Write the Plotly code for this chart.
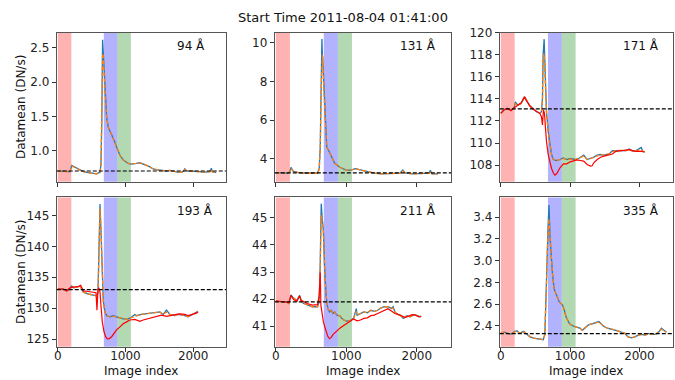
import plotly.graph_objects as go
from plotly.subplots import make_subplots

# ---------------- data ----------------
TITLE = "Start Time 2011-08-04 01:41:00"
WAVES = ["94 Å", "131 Å", "171 Å", "193 Å", "211 Å", "335 Å"]
MEANS = [0.70, 3.27, 113.1, 133.0, 41.9, 2.33]
BANDS = [(0, 200, "#ff0000"), (680, 880, "#0000ff"), (880, 1080, "#008000")]

# 94 A
X94 = [0, 100, 182, 206, 240, 280, 330, 378, 430, 476, 530, 575, 610, 624, 638, 650, 662, 672, 685, 697, 710, 722, 746, 770,
       795, 820, 844, 869, 894, 918, 945, 967, 1000, 1041, 1080, 1115, 1160, 1213, 1250, 1287, 1320, 1360, 1410, 1458, 1510,
       1557, 1600, 1655, 1700, 1753, 1790, 1827, 1860, 1876, 1895, 1925, 1980, 2048, 2100, 2146, 2200, 2244, 2262, 2269, 2280,
       2300, 2340]
B94 = [0.70, 0.70, 0.69, 0.78, 0.76, 0.74, 0.71, 0.69, 0.68, 0.67, 0.665, 0.66, 0.67, 0.68, 0.80, 1.40, 2.62, 2.40, 2.10, 1.86,
       1.62, 1.48, 1.34, 1.29, 1.24, 1.19, 1.12, 1.05, 0.98, 0.93, 0.89, 0.86, 0.84, 0.81, 0.80, 0.80, 0.81, 0.82, 0.81, 0.80,
       0.78, 0.76, 0.73, 0.72, 0.71, 0.70, 0.70, 0.71, 0.70, 0.68, 0.68, 0.68, 0.70, 0.73, 0.71, 0.70, 0.70, 0.69, 0.69, 0.68,
       0.69, 0.69, 0.72, 0.74, 0.69, 0.68, 0.68]
O94 = [0.70, 0.70, 0.69, 0.77, 0.76, 0.74, 0.71, 0.69, 0.68, 0.67, 0.665, 0.66, 0.67, 0.68, 0.78, 1.35, 2.42, 2.38, 2.10, 1.86,
       1.62, 1.48, 1.34, 1.29, 1.24, 1.19, 1.12, 1.05, 0.98, 0.93, 0.89, 0.86, 0.84, 0.81, 0.80, 0.80, 0.81, 0.82, 0.81, 0.80,
       0.78, 0.76, 0.73, 0.72, 0.71, 0.70, 0.70, 0.71, 0.70, 0.68, 0.68, 0.68, 0.70, 0.72, 0.71, 0.70, 0.70, 0.69, 0.69, 0.68,
       0.69, 0.69, 0.71, 0.72, 0.69, 0.68, 0.68]

# 131 A
X131 = [0, 100, 176, 200, 215, 249, 322, 420, 520, 591, 615, 630, 644, 654, 660, 664, 688, 703, 722, 752, 786, 835, 908,
        1005, 1079, 1127, 1200, 1298, 1396, 1494, 1640, 1762, 1801, 1835, 1933, 2079, 2177, 2191, 2216, 2299]
B131 = [3.28, 3.27, 3.25, 3.35, 3.55, 3.34, 3.28, 3.25, 3.24, 3.25, 3.50, 4.60, 8.00, 10.20, 9.40, 9.30, 7.00, 5.50, 4.60,
        4.40, 4.10, 3.76, 3.56, 3.40, 3.42, 3.49, 3.42, 3.34, 3.25, 3.22, 3.22, 3.25, 3.42, 3.27, 3.22, 3.22, 3.25, 3.40,
        3.22, 3.22]
O131 = [3.28, 3.27, 3.25, 3.33, 3.50, 3.34, 3.28, 3.25, 3.24, 3.25, 3.45, 4.50, 7.60, 9.20, 9.40, 9.20, 7.00, 5.50, 4.60,
        4.40, 4.10, 3.76, 3.56, 3.40, 3.42, 3.49, 3.42, 3.34, 3.25, 3.22, 3.22, 3.25, 3.38, 3.27, 3.22, 3.22, 3.25, 3.35,
        3.22, 3.22]

# 171 A
X171 = [0, 49, 98, 147, 171, 196, 210, 244, 293, 342, 366, 415, 464, 513, 562, 586, 601, 610, 625, 640, 659, 684, 708, 732,
        757, 806, 854, 903, 952, 1001, 1074, 1123, 1172, 1196, 1245, 1294, 1342, 1391, 1440, 1489, 1562, 1611, 1660, 1733,
        1806, 1855, 1904, 1953, 2026, 2050, 2075]
B171 = [112.69, 112.99, 113.13, 112.99, 113.08, 113.28, 113.73, 113.43, 113.58, 114.18, 113.88, 113.43, 113.13, 112.84,
        112.69, 112.84, 114.0, 117.9, 119.4, 115.5, 112.84, 111.04, 109.85, 108.96, 108.51, 108.42, 108.51, 108.66, 108.51,
        108.6, 108.51, 108.6, 108.81, 108.9, 108.51, 108.6, 108.72, 108.9, 108.96, 108.9, 109.01, 109.3, 109.31, 109.34,
        109.31, 109.46, 109.25, 109.31, 109.6, 109.25, 109.19]
O171 = [112.69, 112.99, 113.13, 112.99, 113.08, 113.28, 113.55, 113.43, 113.58, 114.18, 113.88, 113.43, 113.13, 112.84,
        112.69, 112.84, 113.8, 117.6, 118.1, 115.5, 112.84, 111.04, 109.85, 108.96, 108.51, 108.42, 108.51, 108.6, 108.51,
        108.55, 108.51, 108.6, 108.75, 108.85, 108.51, 108.6, 108.72, 108.9, 108.96, 108.9, 109.01, 109.2, 109.31, 109.34,
        109.31, 109.4, 109.25, 109.31, 109.4, 109.25, 109.19]
XR171 = [0, 49, 98, 147, 196, 244, 293, 342, 366, 415, 464, 513, 562, 586, 601, 615, 630, 645, 659, 684, 708, 732, 757, 781,
         806, 830, 854, 903, 952, 1001, 1050, 1098, 1147, 1196, 1245, 1294, 1318, 1342, 1391, 1440, 1489, 1562, 1611, 1660,
         1733, 1806, 1855, 1904, 1953, 2026, 2075]
R171 = [112.69, 113.04, 113.13, 112.93, 113.2, 113.43, 113.64, 114.18, 113.88, 113.37, 113.07, 112.9, 112.69, 112.39,
        111.64, 112.99, 112.69, 111.34, 110.15, 108.96, 108.21, 107.70, 107.31, 107.1, 107.22, 107.46, 107.76, 108.12,
        108.12, 108.30, 108.42, 108.48, 108.42, 108.36, 108.06, 107.91, 107.94, 108.21, 108.51, 108.72, 108.81, 108.96,
        109.01, 109.25, 109.31, 109.31, 109.4, 109.31, 109.25, 109.25, 109.19]

# 193 A
X193 = [0, 84, 133, 157, 206, 231, 280, 329, 353, 378, 452, 525, 575, 594, 609, 624, 638, 658, 673, 697, 722, 771, 820, 869,
        918, 967, 1016, 1066, 1139, 1164, 1237, 1311, 1409, 1507, 1557, 1606, 1655, 1728, 1777, 1851, 1925, 1974, 2023, 2072]
B193 = [133.1, 133.1, 132.8, 132.95, 133.6, 133.3, 133.4, 133.6, 133.1, 132.6, 132.3, 132.1, 132.0, 132.5, 140.0, 146.85,
        142.6, 134.7, 131.0, 129.4, 128.8, 128.6, 128.8, 128.6, 128.4, 128.3, 128.2, 128.4, 129.0, 128.8, 129.0, 129.1,
        129.3, 129.4, 129.0, 129.7, 129.0, 128.8, 129.0, 128.9, 128.6, 128.9, 129.3, 129.5]
O193 = [133.1, 133.1, 132.8, 132.95, 133.4, 133.3, 133.4, 133.5, 133.1, 132.6, 132.3, 132.1, 132.0, 132.4, 139.5, 146.1,
        142.6, 134.7, 131.0, 129.4, 128.8, 128.6, 128.7, 128.6, 128.4, 128.3, 128.2, 128.4, 128.8, 128.8, 129.0, 129.1,
        129.3, 129.4, 129.0, 129.4, 129.0, 128.8, 129.0, 128.9, 128.6, 128.9, 129.3, 129.5]
XR193 = [0, 84, 133, 157, 206, 255, 304, 339, 378, 452, 525, 565, 579, 594, 609, 624, 638, 658, 683, 707, 732, 761, 795,
         830, 869, 918, 967, 1016, 1066, 1139, 1213, 1262, 1335, 1409, 1483, 1532, 1606, 1679, 1753, 1802, 1876, 1925, 1998,
         2048, 2072]
R193 = [133.1, 133.1, 132.8, 133.1, 133.4, 133.5, 133.5, 133.7, 132.8, 132.7, 132.6, 132.5, 129.7, 133.1, 133.3, 132.6,
        130.4, 127.8, 126.2, 125.4, 125.05, 125.1, 125.4, 125.9, 126.5, 127.0, 127.5, 127.8, 128.1, 128.2, 127.9, 128.1,
        128.3, 128.5, 128.8, 128.9, 128.7, 128.8, 129.0, 129.1, 129.0, 128.8, 129.0, 129.2, 129.4]

# 211 A
X211 = [0, 78, 151, 186, 215, 249, 298, 337, 361, 395, 444, 517, 591, 615, 630, 644, 659, 674, 693, 713, 737, 761, 786, 810,
        835, 859, 884, 908, 932, 966, 1005, 1054, 1103, 1142, 1152, 1200, 1249, 1298, 1347, 1396, 1445, 1493, 1542, 1591,
        1640, 1664, 1689, 1713, 1762, 1810, 1859, 1908, 1957, 2006, 2055]
B211 = [41.92, 41.92, 41.90, 41.84, 42.16, 42.04, 41.96, 42.14, 41.92, 41.84, 41.78, 41.72, 41.72, 41.90, 43.35, 45.52,
        44.92, 44.55, 43.10, 42.14, 41.65, 41.53, 41.59, 41.47, 41.53, 41.43, 41.39, 41.39, 41.30, 41.23, 41.19, 41.21,
        41.29, 41.65, 41.41, 41.47, 41.53, 41.50, 41.59, 41.55, 41.59, 41.68, 41.72, 41.72, 41.66, 41.72, 41.53, 41.47,
        41.41, 41.29, 41.39, 41.35, 41.43, 41.39, 41.35]
O211 = [41.92, 41.92, 41.90, 41.84, 42.10, 42.04, 41.96, 42.10, 41.92, 41.84, 41.78, 41.72, 41.72, 41.88, 43.20, 45.10,
        44.85, 44.50, 43.10, 42.14, 41.65, 41.53, 41.57, 41.47, 41.53, 41.43, 41.39, 41.39, 41.30, 41.23, 41.19, 41.21,
        41.29, 41.55, 41.41, 41.47, 41.53, 41.50, 41.59, 41.55, 41.59, 41.68, 41.72, 41.72, 41.66, 41.66, 41.53, 41.47,
        41.41, 41.29, 41.39, 41.35, 41.43, 41.39, 41.35]
XR211 = [0, 78, 151, 186, 215, 249, 298, 337, 361, 395, 444, 517, 591, 615, 630, 639, 654, 674, 693, 713, 737, 761, 786,
         810, 835, 859, 908, 957, 1005, 1054, 1103, 1152, 1200, 1249, 1298, 1347, 1396, 1445, 1493, 1542, 1591, 1640, 1689,
         1737, 1786, 1835, 1884, 1933, 1981, 2030, 2064]
R211 = [41.94, 41.92, 41.90, 41.87, 42.14, 41.99, 41.92, 42.12, 41.96, 41.90, 41.84, 41.78, 41.80, 42.14, 42.98, 41.78,
        41.41, 41.17, 40.99, 40.81, 40.63, 40.54, 40.59, 40.69, 40.75, 40.83, 40.93, 41.02, 41.11, 41.19, 41.27, 41.20,
        41.23, 41.29, 41.31, 41.39, 41.41, 41.47, 41.53, 41.59, 41.65, 41.56, 41.47, 41.43, 41.39, 41.32, 41.39, 41.43,
        41.41, 41.35, 41.37]

# 335 A
X335 = [0, 50, 100, 149, 199, 234, 273, 333, 372, 422, 472, 546, 611, 635, 645, 660, 680, 695, 710, 720, 744, 769, 794,
        819, 844, 868, 893, 918, 943, 992, 1042, 1092, 1141, 1176, 1216, 1265, 1315, 1364, 1414, 1439, 1488, 1538, 1588,
        1637, 1687, 1737, 1786, 1836, 1885, 1935, 1985, 2034, 2084, 2133, 2183, 2233, 2282, 2317, 2357, 2390]
B335 = [2.334, 2.343, 2.331, 2.325, 2.35, 2.355, 2.334, 2.35, 2.325, 2.30, 2.289, 2.283, 2.274, 2.32, 2.47, 2.83, 3.28,
        3.51, 3.22, 3.10, 2.89, 2.74, 2.69, 2.66, 2.62, 2.60, 2.59, 2.54, 2.48, 2.42, 2.40, 2.39, 2.38, 2.36, 2.385, 2.41,
        2.42, 2.43, 2.44, 2.425, 2.395, 2.38, 2.373, 2.364, 2.355, 2.343, 2.334, 2.30, 2.291, 2.30, 2.316, 2.322, 2.316,
        2.331, 2.322, 2.322, 2.346, 2.38, 2.355, 2.343]
O335 = [2.334, 2.343, 2.331, 2.325, 2.345, 2.35, 2.334, 2.345, 2.325, 2.30, 2.289, 2.283, 2.274, 2.32, 2.46, 2.80, 3.25,
        3.385, 3.22, 3.10, 2.89, 2.74, 2.69, 2.66, 2.62, 2.60, 2.59, 2.54, 2.48, 2.42, 2.40, 2.39, 2.38, 2.36, 2.385, 2.41,
        2.42, 2.43, 2.435, 2.425, 2.395, 2.38, 2.373, 2.364, 2.355, 2.343, 2.334, 2.30, 2.291, 2.30, 2.316, 2.322, 2.316,
        2.331, 2.322, 2.322, 2.346, 2.37, 2.355, 2.343]

BLUE = [(X94, B94), (X131, B131), (X171, B171), (X193, B193), (X211, B211), (X335, B335)]
ORANGE = [(X94, O94), (X131, O131), (X171, O171), (X193, O193), (X211, O211), (X335, O335)]
RED = [None, None, (XR171, R171), (XR193, R193), (XR211, R211), None]

YRANGES = [(0.543, 2.726), (2.81, 10.54), (106.5, 120.0), (123.8, 147.9), (40.25, 45.75), (2.21, 3.58)]
YTICKS = [[1.0, 1.5, 2.0, 2.5], [4, 6, 8, 10], [108, 110, 112, 114, 116, 118, 120],
          [125, 130, 135, 140, 145], [41, 42, 43, 44, 45], [2.4, 2.6, 2.8, 3.0, 3.2, 3.4]]
YFMT = [".1f", "d", "d", "d", "d", ".1f"]
XTICKS = [0, 1000, 2000]
XRANGE = (-15, 2485)

# ---------------- layout ----------------
W, H = 675, 380
COLS_PX = [(54, 224), (273, 450), (499, 673)]
ROWS_PX = [(26, 178), (194, 346)]
FONT = "DejaVu Sans"

fig = make_subplots(rows=2, cols=3)

for i in range(6):
    r, c = i // 3 + 1, i % 3 + 1
    bx, by = BLUE[i]
    fig.add_trace(go.Scatter(x=bx, y=by, mode="lines", line=dict(color="#1f77b4", width=1.3),
                             showlegend=False, hoverinfo="skip"), row=r, col=c)
    ox, oy = ORANGE[i]
    fig.add_trace(go.Scatter(x=ox, y=oy, mode="lines", line=dict(color="#ff7f0e", width=1.3, dash="4px,2px"),
                             showlegend=False, hoverinfo="skip"), row=r, col=c)
    if RED[i] is not None:
        rx, ry = RED[i]
        fig.add_trace(go.Scatter(x=rx, y=ry, mode="lines", line=dict(color="#ff0000", width=1.2),
                                 showlegend=False, hoverinfo="skip"), row=r, col=c)
    for x0, x1, col in BANDS:
        fig.add_vrect(x0=x0, x1=x1, fillcolor=col, opacity=0.3, line_width=0, layer="below", row=r, col=c)
    fig.add_hline(y=MEANS[i], line=dict(color="black", width=1.2, dash="4px,2px"), row=r, col=c)

    xa = "xaxis" if i == 0 else f"xaxis{i+1}"
    ya = "yaxis" if i == 0 else f"yaxis{i+1}"
    cx0, cx1 = COLS_PX[c - 1]
    ry0, ry1 = ROWS_PX[r - 1]
    fig.layout[xa].update(domain=[cx0 / W, cx1 / W], range=list(XRANGE), tickvals=XTICKS,
                          showticklabels=(r == 2), ticks="outside", ticklen=4, tickcolor="#333",
                          ticklabelstandoff=-6,
                          showline=True, mirror=True, linecolor="#555", linewidth=1, showgrid=False, zeroline=False,
                          tickfont=dict(family=FONT, size=12, color="#222"))
    fig.layout[ya].update(domain=[1 - ry1 / H, 1 - ry0 / H], range=list(YRANGES[i]), tickvals=YTICKS[i],
                          tickformat=YFMT[i], ticks="outside", ticklen=4, tickcolor="#333",
                          showline=True, mirror=True, linecolor="#555", linewidth=1, showgrid=False, zeroline=False,
                          tickfont=dict(family=FONT, size=12, color="#222"))
    fig.add_annotation(text=WAVES[i], xref=f"x{'' if i == 0 else i+1} domain", yref=f"y{'' if i == 0 else i+1} domain",
                       x=0.70, y=0.91, xanchor="left", yanchor="middle", showarrow=False,
                       font=dict(family=FONT, size=12, color="#111"))

fig.add_annotation(text=TITLE, xref="paper", yref="paper", x=342 / W, y=1 - 11 / H, xanchor="center",
                   yanchor="middle", showarrow=False, font=dict(family=FONT, size=13, color="#111"))
for (ry0, ry1) in ROWS_PX:
    fig.add_annotation(text="Datamean (DN/s)", xref="paper", yref="paper", x=18 / W, y=1 - (ry0 + ry1) / 2 / H,
                       xanchor="center", yanchor="middle", textangle=-90, showarrow=False,
                       font=dict(family=FONT, size=12, color="#111"))
for (cx0, cx1) in COLS_PX:
    fig.add_annotation(text="Image index", xref="paper", yref="paper", x=(cx0 + cx1) / 2 / W, y=1 - 362 / H,
                       xanchor="center", yanchor="top", showarrow=False,
                       font=dict(family=FONT, size=12, color="#111"))

fig.update_layout(width=W, height=H, margin=dict(l=0, r=0, t=0, b=0), paper_bgcolor="white",
                  plot_bgcolor="white", showlegend=False)

fig.write_html("out.html")
